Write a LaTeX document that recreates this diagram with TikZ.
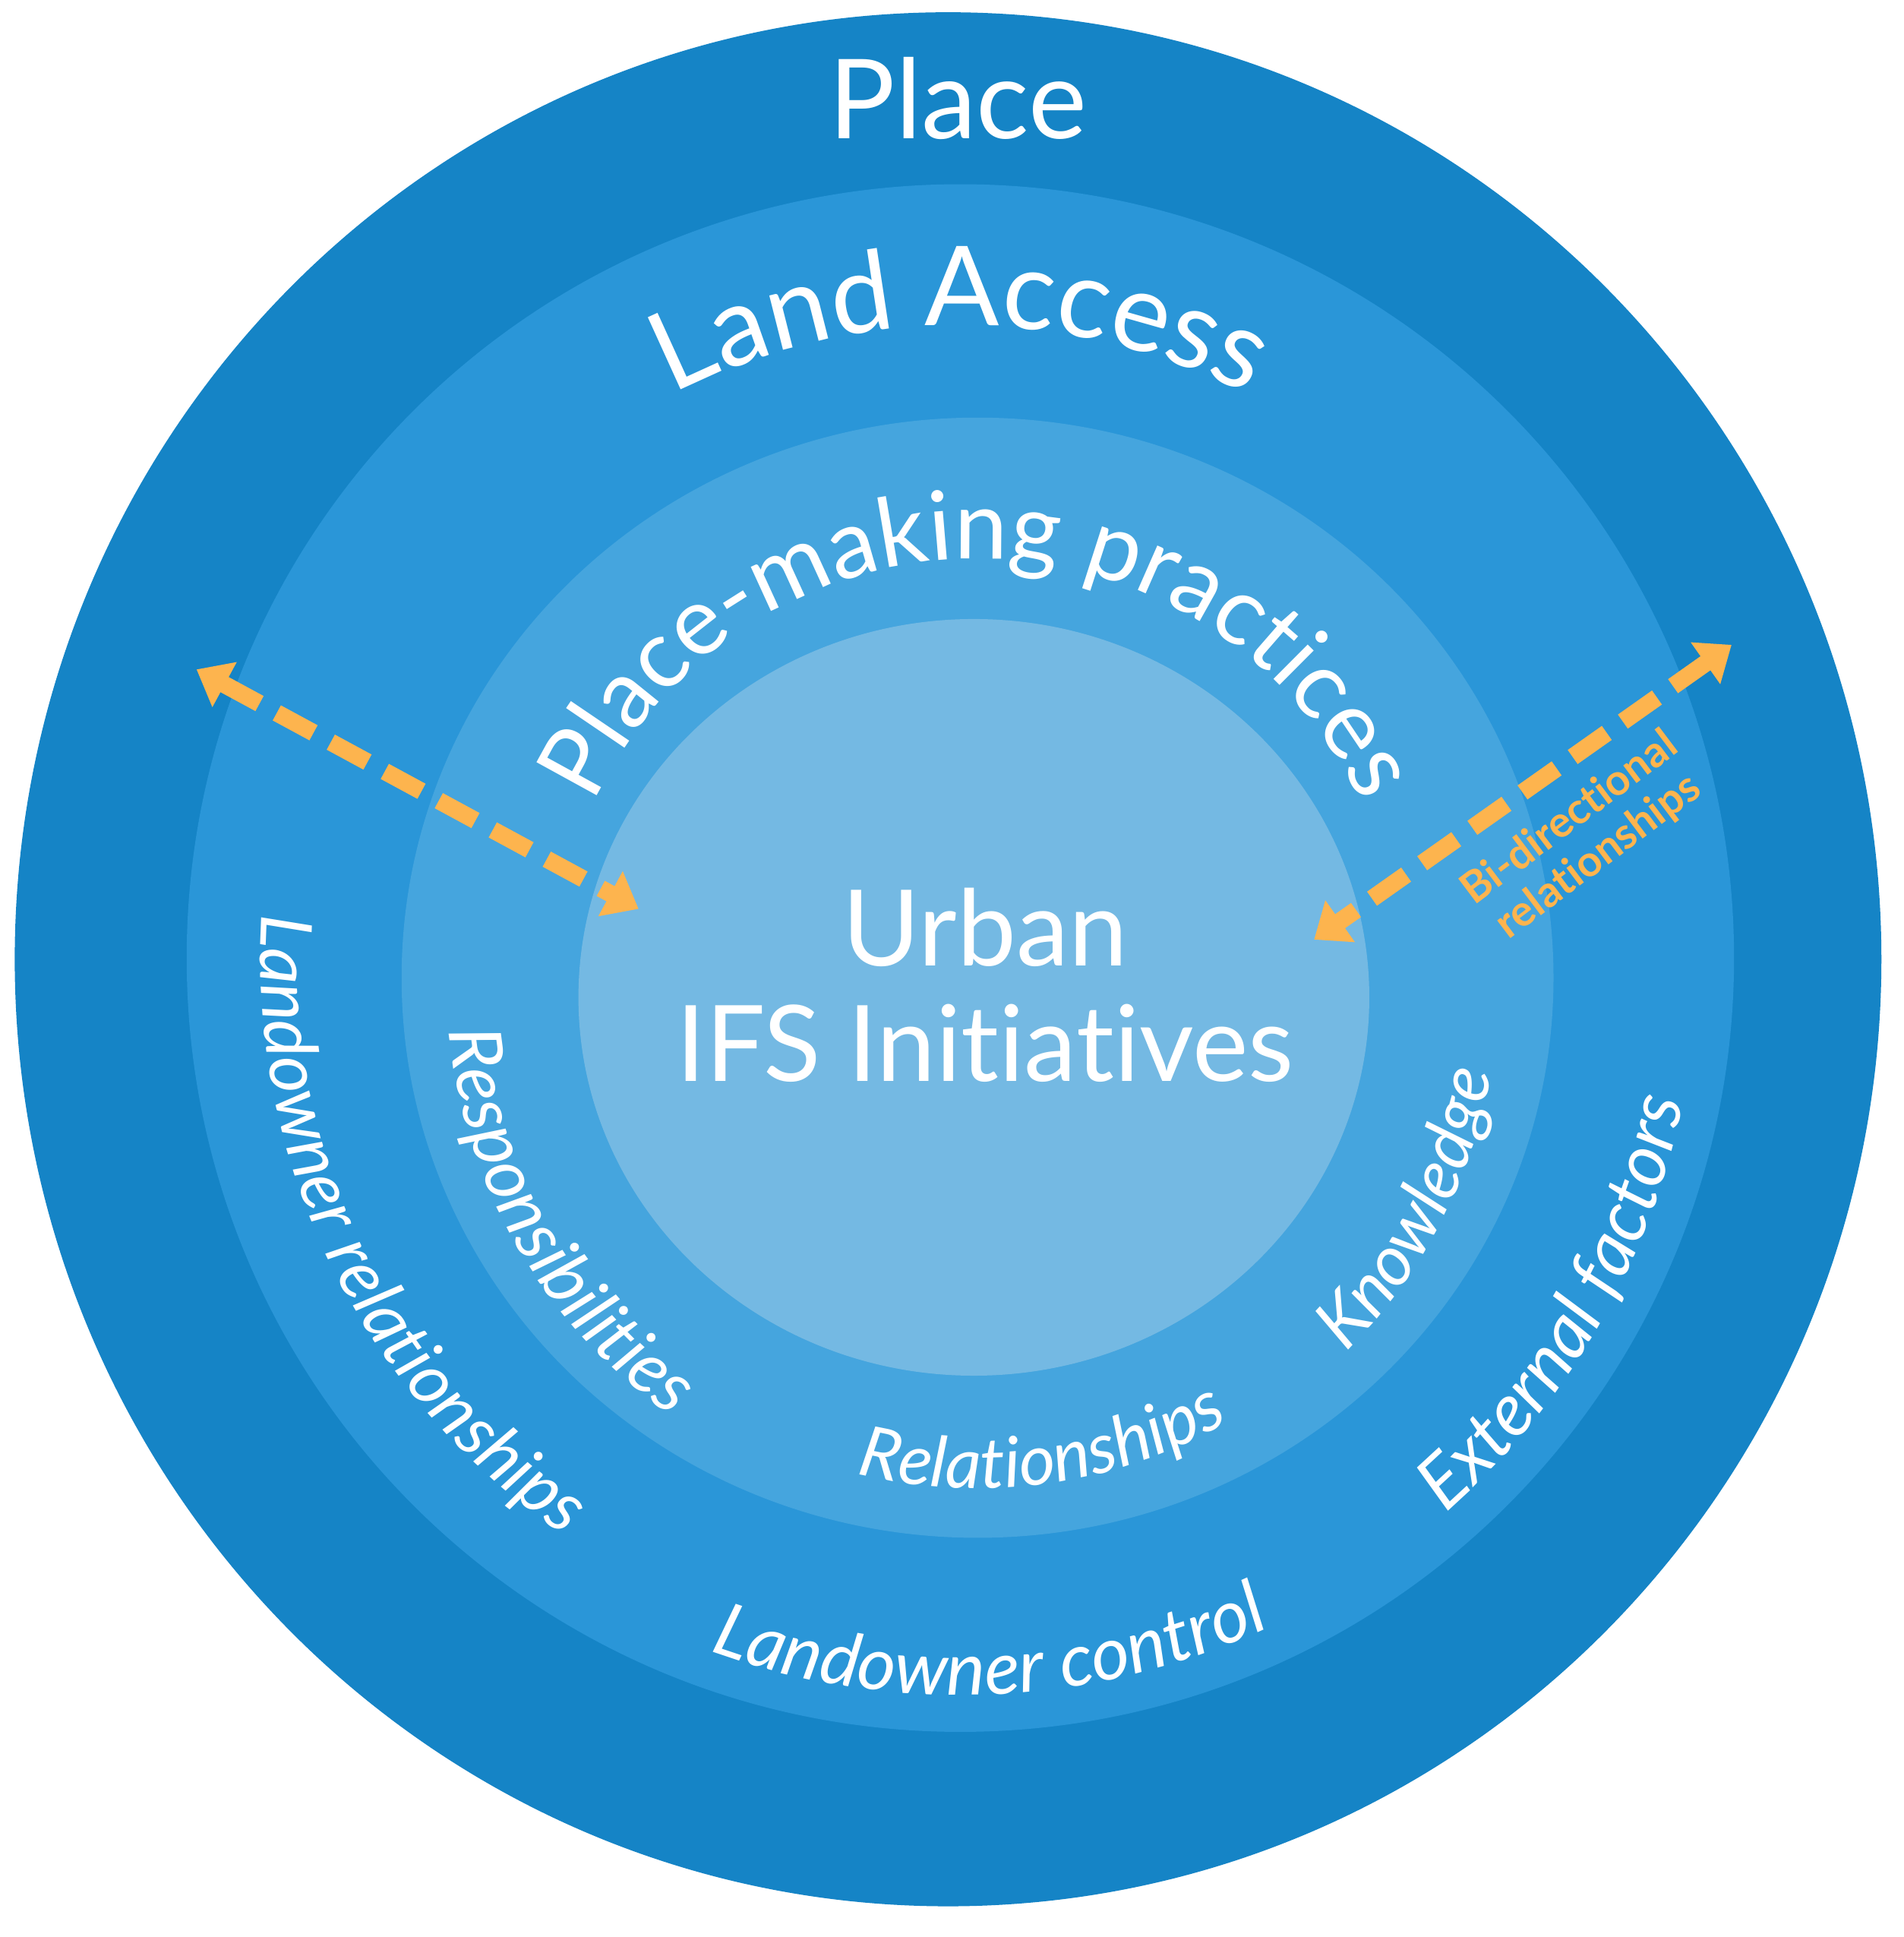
\documentclass[tikz,border=0pt]{standalone}
\usepackage{fontspec}
\setmainfont{Lato}[Ligatures={NoCommon,NoRare}]
\usetikzlibrary{decorations.text,arrows.meta}
\definecolor{c1}{HTML}{1584C6}
\definecolor{c2}{HTML}{2A96D8}
\definecolor{c3}{HTML}{45A5DE}
\definecolor{c4}{HTML}{74B9E3}
\definecolor{org}{HTML}{FDB44E}
\begin{document}
\begin{tikzpicture}[x=1pt,y=1pt,
  ctext/.style={decorate,decoration={text along path,text align=center,text color=white,text={#1}}},
  bidir/.style={org,line width=14pt,dash pattern=on 34pt off 16pt,{Triangle[length=26pt,width=40pt]}-{Triangle[length=26pt,width=40pt]}}]
\useasboundingbox (0,0) rectangle (1550,1577);
\fill[white] (0,0) rectangle (1550,1577);
\fill[c1] (772,796) ellipse [x radius=760,y radius=771];
\fill[c2] (782,797) circle [radius=630];
\fill[c3] (796,781) ellipse [x radius=469,y radius=456];
\fill[c4] (793,765) ellipse [x radius=322,y radius=308];
\node[text=white,font=\fontsize{90}{90}\selectfont] (place) at (780,1497) {Place};
\node[text=white,align=center,font=\fontsize{86}{94}\selectfont] (urban) at (802,775) {Urban\\IFS Initiatives};
% curved labels
\path[ctext={|\fontsize{90}{90}\selectfont|Land Access}] (782,797) ++(150:515) arc[start angle=150,end angle=30,radius=515];
\path[ctext={|\fontsize{78}{78}\selectfont|Place-making practices}] (796,777) ++(155:345) arc[start angle=155,end angle=25,radius=345];
\path[ctext={|\itshape\fontsize{58}{58}\selectfont|Landowner relationships}] (782,797) ++(165:570) arc[start angle=165,end angle=247,radius=570];
\path[ctext={|\itshape\fontsize{60}{60}\selectfont|Landowner control}] (782,797) ++(240:600) arc[start angle=240,end angle=305,radius=600];
\path[ctext={|\itshape\fontsize{60}{60}\selectfont|External factors}] (782,797) ++(295:600) arc[start angle=295,end angle=365,radius=600];
\path[ctext={|\itshape\fontsize{59}{59}\selectfont|Responsibilities}] (796,777) ++(165:432) arc[start angle=165,end angle=255,radius=432];
\path[ctext={|\itshape\fontsize{57}{57}\selectfont|Relationships}] (796,777) ++(245:412) arc[start angle=245,end angle=311,radius=412];
\path[ctext={|\itshape\fontsize{57}{57}\selectfont|Knowledge}] (796,777) ++(303:425) arc[start angle=303,end angle=362,radius=425];
% arrows
\coordinate (l1) at (160,1032);
\coordinate (l2) at (520,837);
\coordinate (r1) at (1410,1052);
\coordinate (r2) at (1070,812);
\draw[bidir] (l1) -- (l2);
\draw[bidir] (r1) -- (r2);
\node[text=org,rotate=37,align=center,font=\bfseries\fontsize{35}{39}\selectfont] (bi) at (1290,895) {Bi-directional\\relationships};
\end{tikzpicture}
\end{document}
